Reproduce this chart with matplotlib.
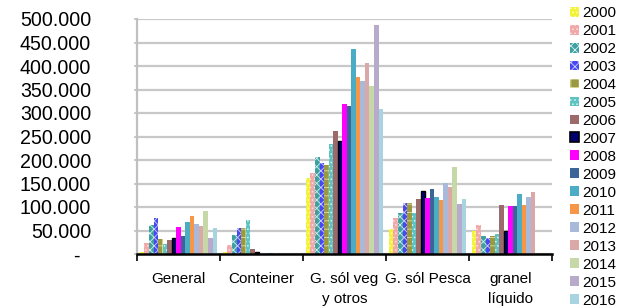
import numpy as np
import matplotlib
matplotlib.use("Agg")
import matplotlib.pyplot as plt
from matplotlib.patches import Patch

plt.rcParams['font.family'] = ['Liberation Sans', 'DejaVu Sans']
plt.rcParams['hatch.linewidth'] = 0.6

categories = ["General", "Conteiner", "G. sól veg\ny otros", "G. sól Pesca", "granel\nlíquido"]
years = [str(y) for y in range(2000, 2017)]

nan = np.nan
values = {
    "2000": [5000, 5000, 161000, 52600, 49600],
    "2001": [22800, 19000, 172000, 76600, 62400],
    "2002": [61000, 40000, 206000, 86600, 38300],
    "2003": [76000, 55300, 194000, 109000, 34000],
    "2004": [31300, 55300, 190000, 108000, 39000],
    "2005": [20600, 72300, 235000, 88000, 42000],
    "2006": [29800, 11300, 262000, 116000, 103600],
    "2007": [34000, 4000, 240000, 133000, 49600],
    "2008": [58000, 0, 320000, 119000, 102000],
    "2009": [37600, 0, 315000, 138000, 102000],
    "2010": [68000, 1500, 436000, 122000, 127700],
    "2011": [81500, 0, 377000, 114000, 103600],
    "2012": [64000, 1500, 369000, 152000, 122000],
    "2013": [59600, 0, 406000, 142000, 132000],
    "2014": [91500, 0, 358000, 186000, nan],
    "2015": [34000, 0, 487000, 106000, nan],
    "2016": [54700, 0, 308500, 116000, nan],
}

colors = {
    "2000": "#F2F23A", "2001": "#F0A8A8", "2002": "#3FA0A0", "2003": "#4848F0",
    "2004": "#9A9840", "2005": "#5CC2C2", "2006": "#9C6A6A", "2007": "#000070",
    "2008": "#FF00FF", "2009": "#3B6598", "2010": "#4BACC6", "2011": "#F79646",
    "2012": "#A9B9DA", "2013": "#DBA8A8", "2014": "#C6D8A8", "2015": "#B8AACB",
    "2016": "#A8D4E2",
}
hatches = {
    "2000": ("....", "#FFFFB0"), "2001": ("....", "#FFE0E0"), "2002": ("xxxx", "#D0F0F0"),
    "2003": ("xxxx", "#D0D0FF"), "2004": ("++", "#E0E0A0"), "2005": ("....", "#D8F4F4"),
}

fig = plt.figure(figsize=(6.23, 3.07), dpi=100)
ax = fig.add_axes([137/623, 1 - 254/307, (552-137)/623, 235/307])

n = len(years)
total = 0.93
w = total / n
x = np.arange(len(categories))
for i, yr in enumerate(years):
    pos = x - total/2 + w*(i + 0.5)
    if yr in hatches:
        h, hc = hatches[yr]
        kw = dict(hatch=h, edgecolor=hc, linewidth=0)
    elif yr == "2007":
        kw = dict(edgecolor="black", linewidth=1.0)
    else:
        kw = dict(linewidth=0)
    ax.bar(pos, values[yr], width=w, color=colors[yr], zorder=3, **kw)

ax.set_ylim(0, 500000)
ax.set_xlim(-0.5, -0.5 + (552-137)/86)

yt = np.arange(0, 500001, 50000)
ax.set_yticks(yt)
ax.set_yticklabels(["-  "] + [f"{v//1000}.000" for v in yt[1:]], fontsize=14.1)
ax.yaxis.grid(True, color="#C8C8C8", linewidth=1.6, zorder=0)
ax.tick_params(axis="y", length=2.5, width=1.2, color="#C0C0C0", pad=30.5, direction="out")

ax.set_xticks(np.arange(-0.5, 4.6, 1), minor=False)
ax.set_xticklabels([])
ax.set_xticks(x, minor=True)
ax.set_xticklabels(categories, minor=True, fontsize=11, linespacing=1.5)
ax.tick_params(axis="x", which="major", length=5, width=1.2, color="black", direction="out")
ax.tick_params(axis="x", which="minor", length=0, pad=13)

for s in ["top", "right"]:
    ax.spines[s].set_visible(False)
ax.spines["left"].set_color("#C0C0C0")
ax.spines["left"].set_linewidth(1.6)
ax.spines["bottom"].set_color("black")
ax.spines["bottom"].set_linewidth(1.8)
ax.spines["bottom"].set_zorder(5)
ax.set_axisbelow(True)

handles = []
for yr in years:
    if yr in hatches:
        h, hc = hatches[yr]
        handles.append(Patch(facecolor=colors[yr], hatch=h, edgecolor=hc, linewidth=0))
    elif yr == "2007":
        handles.append(Patch(facecolor=colors[yr], edgecolor="black", linewidth=1.2))
    else:
        handles.append(Patch(facecolor=colors[yr], linewidth=0))
fig.legend(handles, years, loc="upper left", bbox_to_anchor=(570/623, 1 - 6/307),
           frameon=False, fontsize=11, handlelength=0.62, handleheight=0.62,
           handletextpad=0.15, labelspacing=0.26, borderpad=0, borderaxespad=0)

fig.savefig("out.png", dpi=100)
